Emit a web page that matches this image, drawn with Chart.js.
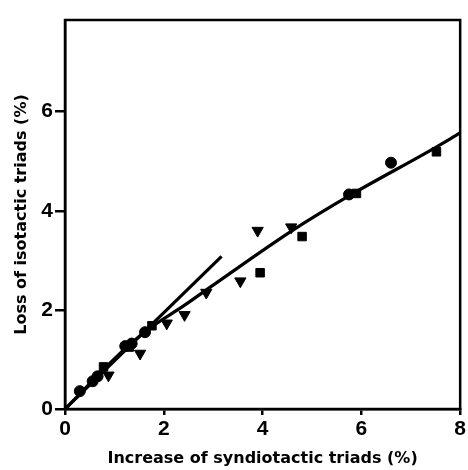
<!DOCTYPE html>
<html>
<head>
<meta charset="utf-8">
<script src="https://cdn.jsdelivr.net/npm/chart.js@4"></script>
<style>
    html, body { margin: 0; padding: 0; background: #fff; }
    #wrap { width: 468px; height: 470px; }
</style>
</head>
<body>
<div id="wrap"><canvas id="chart" width="468" height="470"></canvas></div>
<script>
// data
const circles = [[0.30, 0.36], [0.56, 0.56], [0.66, 0.66], [1.22, 1.27], [1.35, 1.32], [1.62, 1.55], [5.75, 4.33], [6.6, 4.97]];
const squares = [[0.78, 0.85], [1.30, 1.25], [1.76, 1.68], [3.95, 2.75], [4.80, 3.48], [5.9, 4.35], [7.52, 5.19]];
const triangles = [[0.88, 0.68], [1.52, 1.12], [2.06, 1.73], [2.42, 1.90], [2.86, 2.35], [3.55, 2.58], [3.90, 3.60], [4.58, 3.67]];
const mainCurve = [[0, 0], [1.2, 1.2], [1.7, 1.62], [2.4, 2.08], [3.0, 2.5], [4.6, 3.6], [5.8, 4.33], [7.4, 5.22], [8, 5.57]];
const shortLine = [[0, 0], [3.17, 3.08]];
const xTicks = [0, 2, 4, 6, 8];
const yTicks = [0, 2, 4, 6];

const toXY = arr => arr.map(p => ({x: p[0], y: p[1]}));
const tickFont = {family: 'Liberation Sans', weight: 'bold', size: 21};
const titleFont = {family: 'DejaVu Sans', weight: 'bold', size: 16};

const frame = {
    id: 'frame',
    afterDraw(chart) {
        const a = chart.chartArea, c = chart.ctx;
        c.save();
        c.strokeStyle = '#000';
        c.lineWidth = 2.5;
        c.strokeRect(a.left, a.top, a.right - a.left, a.bottom - a.top);
        c.restore();
    }
};

const ctx = document.getElementById('chart').getContext('2d');
new Chart(ctx, {
    type: 'scatter',
    data: {
        datasets: [
            {data: toXY(mainCurve), showLine: true, borderColor: '#000', borderWidth: 3.2, pointRadius: 0, cubicInterpolationMode: 'monotone'},
            {data: toXY(shortLine), showLine: true, borderColor: '#000', borderWidth: 3.2, pointRadius: 0},
            {data: toXY(circles), pointStyle: 'circle', pointRadius: 5.5, backgroundColor: '#000', borderColor: '#000'},
            {data: toXY(squares), pointStyle: 'rect', pointRadius: 6, backgroundColor: '#000', borderColor: '#000'},
            {data: toXY(triangles), pointStyle: 'triangle', rotation: 180, pointRadius: 6.5, backgroundColor: '#000', borderColor: '#000'}
        ]
    },
    options: {
        responsive: false,
        animation: false,
        layout: {padding: {top: 20, right: 6, left: 12, bottom: 0}},
        plugins: {legend: {display: false}, tooltip: {enabled: false}},
        scales: {
            x: {
                type: 'linear', min: 0, max: 8,
                afterBuildTicks: s => { s.ticks = xTicks.map(v => ({value: v})); },
                afterFit: s => { s.height = 61; },
                border: {color: '#000', width: 2.5},
                grid: {drawOnChartArea: false, color: '#000', lineWidth: 2.5, tickLength: 6},
                ticks: {color: '#000', font: tickFont, padding: 2},
                title: {display: true, text: 'Increase of syndiotactic triads (%)', color: '#000',
                        font: titleFont, padding: {top: 0, bottom: 2}}
            },
            y: {
                type: 'linear', min: 0, max: 7.85,
                afterBuildTicks: s => { s.ticks = yTicks.map(v => ({value: v})); },
                afterFit: s => { s.width = 53; },
                border: {color: '#000', width: 2.5},
                grid: {drawOnChartArea: false, color: '#000', lineWidth: 2.5, tickLength: 10},
                ticks: {color: '#000', font: tickFont, padding: 2},
                title: {display: true, text: 'Loss of isotactic triads (%)', color: '#000',
                        font: titleFont, padding: {top: 0, bottom: 0}}
            }
        }
    },
    plugins: [frame]
});
</script>
</body>
</html>
